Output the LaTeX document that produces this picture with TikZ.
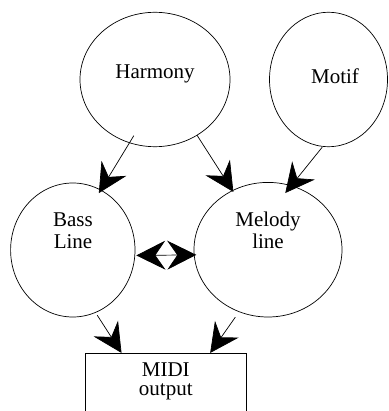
\documentclass[tikz,border=0pt]{standalone}
\usepackage{fontspec}
\setmainfont{Liberation Serif}
\usetikzlibrary{shapes.geometric,arrows.meta,calc}
\begin{document}
\begin{tikzpicture}[x=1pt,y=-1pt,
  bub/.style={ellipse,draw,line width=0.7pt,inner sep=0pt},
  lbl/.style={anchor=base,inner sep=0pt,font=\fontsize{21}{21.7}\selectfont},
  tip/.style={Stealth[length=29pt,width=29pt,inset=10pt]},
  arr/.style={line width=0.7pt,-{Stealth[length=29pt,width=29pt,inset=10pt]}},
  darr/.style={line width=0.7pt,{Stealth[length=29pt,width=29pt,inset=10pt]}-{Stealth[length=29pt,width=29pt,inset=10pt]}}]
\useasboundingbox (0,0) rectangle (388,411);
\clip (0,0) rectangle (388,411);
% nodes
\node[bub,minimum width=150pt,minimum height=134.4pt] (harm) at (155,79.5) {};
\node[bub,minimum width=118pt,minimum height=134.4pt] (motif) at (328.5,79.5) {};
\node[bub,minimum width=124.4pt,minimum height=134pt] (bass) at (72.8,250) {};
\node[bub,minimum width=148pt,minimum height=134.6pt] (mel) at (268,249.7) {};
\node[draw,line width=0.7pt,minimum width=161.7pt,minimum height=71.7pt,inner sep=0pt] (midi) at (165.85,389.15) {};
% labels
\node[lbl] (tharm) at (155,79) {Harmony};
\node[lbl] (tmotif) at (335,83.3) {Motif};
\node[lbl] (tbass) at (73,226.7) {\begin{tabular}[t]{@{}c@{}}Bass\\Line\end{tabular}};
\node[lbl] (tmel) at (268,226.7) {\begin{tabular}[t]{@{}c@{}}Melody\\line\end{tabular}};
\node[lbl,font=\fontsize{21}{19}\selectfont] (tmidi) at (165.8,376) {\begin{tabular}[t]{@{}c@{}}MIDI\\output\end{tabular}};
% connectors
\draw[arr,shorten <=-8.6pt,shorten >=-3.9pt] (harm.-112.8) -- (bass.65.4);
\draw[arr,shorten <=-0.3pt,shorten >=-1.9pt] (harm.-53.1) -- (mel.121.2);
\draw[arr,shorten <=0.6pt,shorten >=-9.7pt] (motif.-95.5) -- (mel.70.2);
\draw[darr,shorten <=1.2pt,shorten >=-2.4pt] (bass.-5.25) -- (mel.184.7);
\draw[arr,shorten <=2.95pt] (bass.-70.4) -- ($(midi.north west)!0.227!(midi.north east)$);
\draw[arr,shorten <=6.4pt] (mel.-115.5) -- ($(midi.north west)!0.773!(midi.north east)$);
\end{tikzpicture}
\end{document}
